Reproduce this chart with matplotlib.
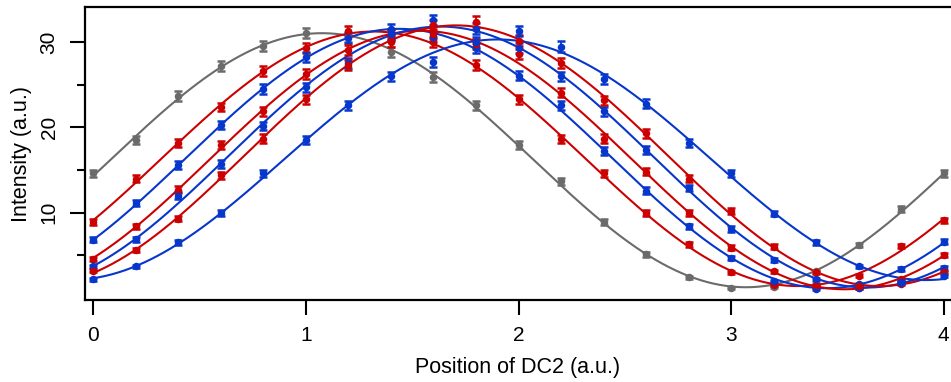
import numpy as np
import matplotlib
matplotlib.use("Agg")
import matplotlib.pyplot as plt

plt.rcParams['font.family'] = ['Liberation Sans', 'DejaVu Sans']

# Scan positions of DC2 (a.u.)
position = [0.0, 0.2, 0.4, 0.6, 0.8, 1.0, 1.2, 1.4, 1.6, 1.8, 2.0,
            2.2, 2.4, 2.6, 2.8, 3.0, 3.2, 3.4, 3.6, 3.8, 4.0]

# Measured intensities (a.u.) for each scan
scan_gray  = [14.6, 18.5, 23.7, 27.2, 29.6, 31.1, 30.6, 28.9, 25.9, 22.6, 17.9,
              13.7, 8.9, 5.1, 2.4, 1.2, 1.3, 3.1, 6.2, 10.4, 14.6]
scan_red1  = [8.9, 14.0, 18.2, 22.4, 26.6, 29.3, 31.3, 30.9, 30.0, 27.3, 23.3,
              18.6, 14.6, 10.0, 6.3, 3.0, 1.5, 1.4, 2.6, 6.1, 9.1]
scan_blue1 = [6.8, 11.1, 15.6, 20.3, 24.5, 28.3, 30.5, 31.5, 30.6, 29.3, 26.1,
              22.6, 17.2, 12.6, 8.4, 4.7, 2.0, 1.0, 1.6, 3.4, 6.6]
scan_red2  = [4.6, 8.4, 12.7, 17.9, 21.9, 26.3, 29.1, 30.8, 31.0, 29.8, 28.6,
              24.1, 18.7, 14.8, 10.0, 5.9, 3.1, 1.5, 1.1, 2.2, 5.0]
scan_blue2 = [3.7, 6.9, 12.0, 15.7, 20.2, 24.7, 27.6, 31.0, 32.6, 31.6, 29.3,
              26.0, 21.9, 17.4, 12.9, 8.1, 4.5, 2.2, 1.2, 1.9, 3.5]
scan_red3  = [3.2, 5.6, 9.3, 14.4, 18.7, 23.3, 27.3, 30.0, 32.0, 32.4, 30.2,
              27.6, 23.2, 19.3, 14.0, 10.2, 6.0, 3.0, 1.4, 1.6, 3.0]
scan_blue3 = [2.2, 3.7, 6.5, 10.0, 14.6, 18.5, 22.6, 26.0, 27.7, 30.0, 31.3,
              29.5, 25.7, 22.8, 18.2, 14.6, 9.9, 6.5, 3.7, 1.8, 2.6]

GRAY = '#6b6b6b'
RED = '#cc0000'
BLUE = '#0636cc'

scans = [
    (scan_gray, GRAY),
    (scan_red1, RED),
    (scan_blue1, BLUE),
    (scan_red2, RED),
    (scan_blue2, BLUE),
    (scan_red3, RED),
    (scan_blue3, BLUE),
]


def fit_sine(x, y):
    """Least-squares fit of y = a + b*cos(2*pi*x/P) + c*sin(2*pi*x/P)."""
    best = None
    for period in np.arange(3.5, 4.5, 0.002):
        k = 2 * np.pi / period
        design = np.column_stack([np.ones_like(x), np.cos(k * x), np.sin(k * x)])
        coef, *_ = np.linalg.lstsq(design, y, rcond=None)
        resid = np.sum((design @ coef - y) ** 2)
        if best is None or resid < best[0]:
            best = (resid, k, coef)
    _, k, coef = best
    return lambda t: coef[0] + coef[1] * np.cos(k * t) + coef[2] * np.sin(k * t)


fig = plt.figure(figsize=(9.51, 3.82), dpi=100)
ax = fig.add_axes([85 / 951, 82 / 382, 866 / 951, 293 / 382])

x = np.asarray(position)
x_fine = np.linspace(x.min(), x.max(), 400)

for values, color in scans:
    y = np.asarray(values)
    model = fit_sine(x, y)
    ax.plot(x_fine, model(x_fine), color=color, lw=1.5, zorder=2)
    ax.errorbar(x, y, yerr=0.11 * np.sqrt(y), fmt='o', color=color,
                ms=4.4, elinewidth=1.3, capsize=3.2, capthick=1.8, zorder=3)

ax.set_xlim(-0.039, 4.034)
ax.set_ylim(-0.25, 34.14)

ax.set_xticks([0, 1, 2, 3, 4])
ax.set_yticks([10, 20, 30])
ax.set_yticks([5, 15, 25], minor=True)

for side in ['left', 'bottom', 'top']:
    ax.spines[side].set_linewidth(1.6)
ax.spines['right'].set_visible(False)

ax.tick_params(axis='both', which='major', length=11, width=1.5,
               labelsize=15, direction='out', color='black')
ax.tick_params(axis='y', which='minor', length=6, width=1.5, direction='out')
ax.tick_params(axis='x', pad=8)
ax.tick_params(axis='y', pad=8)
for lbl in ax.get_yticklabels():
    lbl.set_rotation(90)
    lbl.set_va('center')

ax.set_xlabel('Position of DC2 (a.u.)', fontsize=15.5)
ax.set_ylabel('Intensity (a.u.)', fontsize=15.5)
ax.xaxis.set_label_coords(0.5, -0.193)
ax.yaxis.set_label_coords(-0.061, 0.5)

fig.savefig('out.png', dpi=100)
